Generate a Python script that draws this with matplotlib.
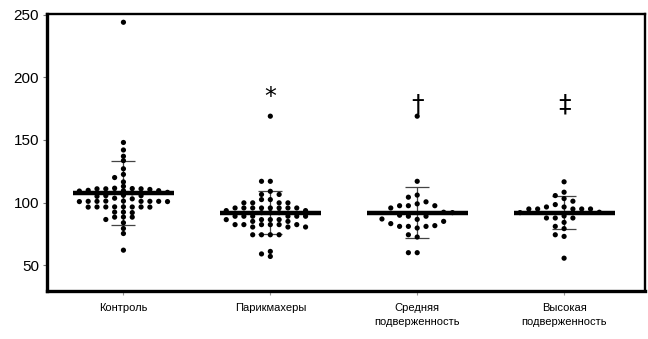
import numpy as np
import matplotlib
matplotlib.use("Agg")
import matplotlib.pyplot as plt

plt.rcParams["font.family"] = ["Liberation Sans", "DejaVu Sans"]

groups = ["Контроль", "Парикмахеры", "Средняя\nподверженность", "Высокая\nподверженность"]

control = [244, 148, 142, 137, 133.5, 127, 122.5, 120, 116.5, 113,
           111.5, 111, 111, 110.5, 111, 111.2, 109.5, 109.8, 109.5, 109.2,
           108, 108.2, 107.8, 105.5, 105.5, 105, 105.8, 103.5, 103,
           101, 101, 101.2, 100.8, 101, 101, 100.8, 101.2, 101,
           96.5, 96.5, 96.4, 96.6, 96.5, 96.5, 96.4, 96.6,
           92.4, 92, 92.4, 88.4, 88.5, 88.4, 86.5, 83.9, 79.3, 75.3, 62]
hairdressers = [169, 117, 117, 109, 106.5, 106.5, 102.4, 102.4,
                99.8, 99.8, 99.8, 99.8,
                95.7, 95.7, 95.7, 95.7, 95.7, 95.7, 95.7, 95.7,
                93.6, 93.6, 92, 92, 92,
                89.1, 89.1, 89.1, 89.1, 89.1, 89.1,
                86.4, 86.4, 86.4, 86.4, 85, 85,
                82.4, 82.4, 82.4, 82.4, 82.4, 82.4, 80.5, 80.5, 80.5,
                74.3, 74.3, 74.3, 74.3, 61, 59, 57]
medium = [169, 117, 106, 104.3, 100.6, 99, 97.5, 97.5, 97.5, 95.7,
          92.3, 92,
          89.9, 89.1, 89.1, 86.6, 86.9, 85, 83.2, 81.6, 81, 81, 81, 79.7,
          74.3, 72.5, 60, 60]
high = [116.6, 108.3, 105.6, 103.2, 101.1, 98.4, 96.5, 96.5,
        94.9, 94.9, 94.9, 94.9, 94.9, 92.3, 92,
        89.3, 87.7, 87.7, 87.7, 84.2, 81, 79.2, 74.3, 73, 55.6]

# mean and SD shown by the line and the whiskers
means = [108, 92, 92, 92]
sds = [25.5, 17.2, 20.4, 13]

marks = ["", "*", "\u2020", "\u2021"]


def swarm_offsets(values, center, tol, from_mean):
    # horizontal slots, filled either top-down or from the extremes inward
    if from_mean:
        order = np.argsort(-np.abs(values - center), kind="stable")
    else:
        order = np.argsort(-values, kind="stable")
    placed = []
    slots = np.zeros(len(values))
    cand = [0]
    for k in range(1, 30):
        cand += [-k, k]
    for i in order:
        v = values[i]
        for s in cand:
            if all(not (ps == s and abs(pv - v) < tol) for pv, ps in placed):
                slots[i] = s
                placed.append((v, s))
                break
    return slots


fig = plt.figure(figsize=(6.48, 3.39), dpi=100)
ax = fig.add_axes([0.0733, 0.1416, 0.9221, 0.8171])

data = [control, hairdressers, medium, high]
row_tol = [3.3, 3.3, 6.0, 5.0]
outward = [False, False, True, True]
dx = 0.06
for i, vals in enumerate(data):
    vals = np.array(vals, dtype=float)
    xs = i + swarm_offsets(vals, means[i], row_tol[i], outward[i]) * dx
    ax.errorbar(i, means[i], yerr=sds[i], fmt="none", ecolor="#444444",
                elinewidth=0.9, capsize=8.5, capthick=0.9, zorder=2)
    ax.scatter(xs, vals, s=14, color="black", edgecolors="none", zorder=3)
    ax.hlines(means[i], i - 0.344, i + 0.344, color="black", lw=3.2, zorder=4)

# significance marks above the groups
ax.text(1, 184, marks[1], ha="center", va="center", fontsize=17,
        family=["DejaVu Sans"])
for i in (2, 3):
    ax.text(i, 178.5, marks[i], ha="center", va="center", fontsize=18,
            family=["DejaVu Sans"])

ax.set_xlim(-0.517, 3.551)
ax.set_ylim(29.4, 250.6)
ax.set_yticks([50, 100, 150, 200, 250])
ax.set_xticks(range(4))
ax.set_xticklabels(groups, fontsize=8)
for t in ax.get_xticklabels():
    t.set_linespacing(1.5)
ax.tick_params(axis="y", labelsize=11, length=3, width=0.8, color="#777777", pad=3)
ax.tick_params(axis="x", length=3, width=0.8, color="#999999", pad=6)

for side in ["left", "bottom"]:
    ax.spines[side].set_linewidth(2.4)
for side in ["top", "right"]:
    ax.spines[side].set_linewidth(1.7)

fig.savefig("out.png", dpi=100)
